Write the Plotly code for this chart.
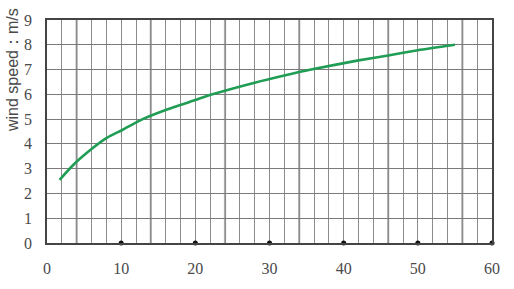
import plotly.graph_objects as go

# Data
time_x = [1.7, 3.5, 5.75, 8.0, 10.2, 12.9, 16.0, 20.0, 22.3, 28.0, 32.0, 35.6, 42.0, 46.0, 50.0, 55.0]
wind_y = [2.55, 3.14, 3.73, 4.23, 4.57, 5.0, 5.37, 5.77, 6.0, 6.47, 6.76, 7.0, 7.37, 7.57, 7.78, 8.0]
x_ticks = [0, 10, 20, 30, 40, 50, 60]
y_ticks = [0, 1, 2, 3, 4, 5, 6, 7, 8, 9]
dot_x = [10, 20, 30, 40, 50, 60]
dot_y = [0, 0, 0, 0, 0, 0]
heavy_grid_x = [4, 14, 24, 34, 46, 56]

fig = go.Figure()

for gx in heavy_grid_x:
    fig.add_vline(x=gx, line=dict(color="#ababab", width=2.2), layer="below")

fig.add_trace(go.Scatter(
    x=time_x, y=wind_y, mode="lines",
    line=dict(color="#1f9d55", width=2.6, shape="spline", smoothing=0.6),
    showlegend=False, hoverinfo="skip"))
fig.add_trace(go.Scatter(
    x=dot_x, y=dot_y, mode="markers",
    marker=dict(color="#111111", size=5),
    cliponaxis=False, showlegend=False, hoverinfo="skip"))

tick_font = dict(family="Liberation Serif", size=16, color="#4a4a4a")

fig.update_layout(
    width=514, height=289,
    margin=dict(l=47, r=22, t=20, b=46),
    paper_bgcolor="white", plot_bgcolor="white",
    xaxis=dict(
        range=[0, 60], tickvals=x_ticks, ticktext=[str(v) for v in x_ticks],
        showgrid=True, gridcolor="#8c8c8c", gridwidth=1,
        minor=dict(dtick=2, showgrid=True, gridcolor="#8c8c8c", gridwidth=1),
        showline=True, linecolor="#444444", linewidth=1.5, mirror=True,
        zeroline=False, ticks="", tickfont=tick_font, ticklabelstandoff=10),
    yaxis=dict(
        range=[0, 9], tickvals=y_ticks, ticktext=[str(v) for v in y_ticks],
        showgrid=True, gridcolor="#7a7a7a", gridwidth=1.3,
        showline=True, linecolor="#444444", linewidth=1.5, mirror=True,
        zeroline=False, ticks="", tickfont=tick_font, ticklabelstandoff=10))

fig.add_annotation(
    text="wind speed：m/s", textangle=-90,
    xref="paper", yref="paper", x=-0.079, y=0.775,
    xanchor="center", yanchor="middle", showarrow=False,
    font=dict(family="Liberation Sans, Arial, sans-serif", size=16, color="#4a4a4a"))

fig.write_html("out.html")
